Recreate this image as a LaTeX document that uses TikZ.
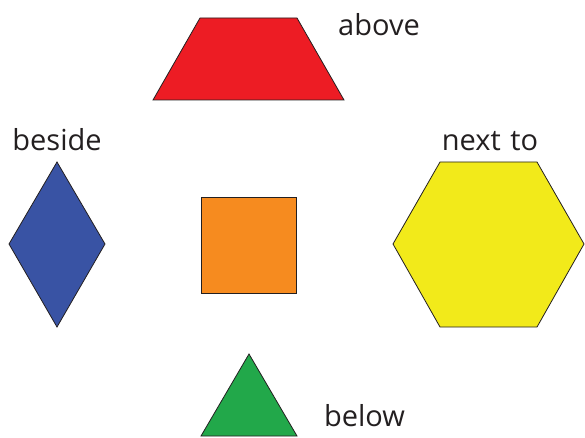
\documentclass[tikz,border=0pt]{standalone}
\usepackage{fontspec}
\setmainfont{Open Sans}
\definecolor{cred}{HTML}{ED1C24}
\definecolor{cblue}{HTML}{3953A4}
\definecolor{corange}{HTML}{F68B1F}
\definecolor{cyellow}{HTML}{F2EA1A}
\definecolor{cgreen}{HTML}{22A84A}
\definecolor{ctext}{HTML}{231F20}
\tikzset{
  shp/.style={draw=ctext, line width=0.8pt, line join=miter},
  lbl/.style={font=\fontsize{29}{33}\selectfont, text=ctext, inner sep=0pt, anchor=base}
}
\begin{document}
\begin{tikzpicture}[x=1pt,y=-1pt]
\useasboundingbox (0,0) rectangle (585,438);
% trapezoid
\draw[shp, fill=cred] (200,18) -- (297,18) -- (344,100) -- (153,100) -- cycle;
% diamond
\draw[shp, fill=cblue] (57,162) -- (105,244) -- (57,327) -- (9,244) -- cycle;
% square
\draw[shp, fill=corange] (201,197) rectangle (296,293);
% hexagon
\draw[shp, fill=cyellow] (393,244) -- (440,162) -- (537,162) -- (584,244) -- (537,327) -- (440,327) -- cycle;
% triangle
\draw[shp, fill=cgreen] (249,354) -- (297,436) -- (201,436) -- cycle;
% labels
\node[lbl] (above) at (379,36) {above};
\node[lbl] (beside) at (57,151) {beside};
\node[lbl] (nextto) at (490,151) {next\,\,to};
\node[lbl] (below) at (364.5,426) {below};
\end{tikzpicture}
\end{document}
